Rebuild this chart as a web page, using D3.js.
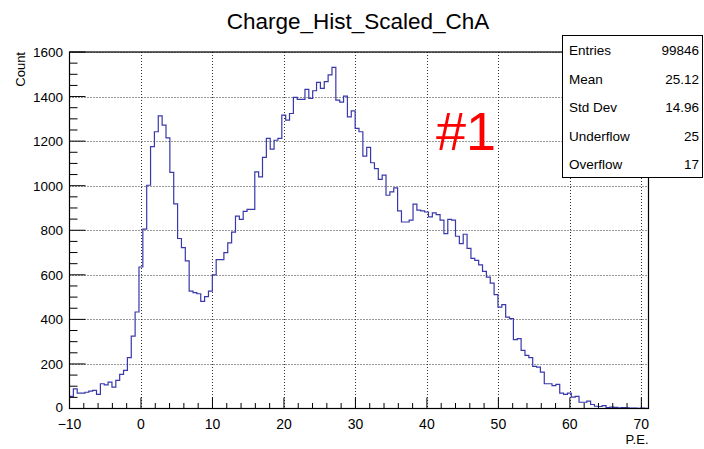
<!DOCTYPE html>
<html>
<head>
<meta charset="utf-8">
<script src="https://cdn.jsdelivr.net/npm/d3@7"></script>
<style>
  body { margin: 0; background: #fff; }
  text { font-family: "Liberation Sans", Arial, sans-serif; }
</style>
</head>
<body>
<svg id="chart" width="704" height="449"></svg>
<script>
// histogram: 150 bins from -10 to 71 (P.E.)
const binLow = -10;
const binHigh = 71;
const counts = [
  54, 88, 69, 69, 73, 78, 81, 63, 111, 106,
  118, 96, 126, 153, 171, 228, 325, 433, 635, 805,
  1002, 1175, 1242, 1313, 1272, 1215, 1060, 918, 763, 722,
  663, 527, 520, 515, 481, 502, 527, 600, 668, 668,
  700, 743, 792, 863, 849, 885, 894, 894, 1062, 1040,
  1127, 1212, 1164, 1204, 1212, 1317, 1294, 1324, 1396, 1387,
  1387, 1432, 1392, 1426, 1464, 1437, 1467, 1497, 1531, 1384,
  1375, 1402, 1309, 1336, 1257, 1242, 1133, 1172, 1103, 1077,
  1028, 1047, 957, 972, 990, 887, 837, 837, 845, 917,
  890, 887, 882, 860, 878, 870, 845, 785, 849, 845,
  773, 740, 782, 719, 674, 665, 645, 615, 590, 563,
  511, 455, 466, 410, 403, 309, 314, 261, 238, 228,
  189, 186, 163, 111, 111, 103, 108, 69, 63, 69,
  51, 54, 28, 28, 33, 18, 10, 9, 13, 4,
  6, 5, 3, 4, 3, 2, 2, 1, 2, 1
];

const xTicks = [-10, 0, 10, 20, 30, 40, 50, 60, 70];
const yTicks = [0, 200, 400, 600, 800, 1000, 1200, 1400, 1600];

const statNames = ["Entries", "Mean", "Std Dev", "Underflow", "Overflow"];
const statValues = ["99846", "25.12", "14.96", "25", "17"];

const title = "Charge_Hist_Scaled_ChA";
const xTitle = "P.E.";
const yTitle = "Count";
const stamp = "#1";

const svg = d3.select("#chart");

// frame
const fx0 = 69.5, fx1 = 648.5, fy0 = 52, fy1 = 408.5;

const x = d3.scaleLinear().domain([binLow, binHigh]).range([fx0, fx1]);
const y = d3.scaleLinear().domain([0, 1600]).range([fy1, fy0]);

const binW = (binHigh - binLow) / counts.length;

// grid (dotted)
const grid = svg.append("g").attr("stroke", "#333").attr("stroke-width", 1)
    .attr("stroke-dasharray", "1,2");
grid.selectAll("line.gx").data(xTicks.filter(t => t > binLow)).join("line")
    .attr("x1", d => Math.round(x(d)) + 0.5).attr("x2", d => Math.round(x(d)) + 0.5)
    .attr("y1", fy0).attr("y2", fy1);
grid.selectAll("line.gy").data(yTicks.filter(t => t > 0)).join("line")
    .attr("x1", fx0).attr("x2", fx1)
    .attr("y1", d => Math.round(y(d)) + 0.5).attr("y2", d => Math.round(y(d)) + 0.5);

// histogram as steps
let pts = counts.map((c, i) => [binLow + i * binW, c]);
pts.push([binHigh, counts[counts.length - 1]]);

const line = d3.line()
    .x(d => x(d[0]))
    .y(d => y(d[1]))
    .curve(d3.curveStepAfter);

svg.append("path")
    .datum(pts)
    .attr("fill", "none")
    .attr("stroke", "#3838ac")
    .attr("stroke-width", 1.2)
    .attr("d", line);

// frame box
svg.append("rect")
    .attr("x", fx0).attr("y", fy0)
    .attr("width", fx1 - fx0).attr("height", fy1 - fy0)
    .attr("fill", "none").attr("stroke", "#000").attr("stroke-width", 1.2);

// y axis ticks, drawn inside like ROOT
const yMinor = d3.range(0, 1601, 50);
svg.append("g").selectAll("line").data(yMinor).join("line")
    .attr("x1", fx0)
    .attr("x2", d => fx0 + (d % 200 === 0 ? 16 : 8))
    .attr("y1", d => y(d)).attr("y2", d => y(d))
    .attr("stroke", "#000").attr("stroke-width", 1);

svg.append("g").selectAll("text").data(yTicks).join("text")
    .attr("x", 63).attr("y", d => y(d) + (d === 0 ? 3 : 5))
    .attr("text-anchor", "end")
    .attr("font-size", 13.5)
    .text(d => d);

// x axis ticks
const xMinor = d3.range(-10, 71, 2);
svg.append("g").selectAll("line").data(xMinor).join("line")
    .attr("x1", d => x(d)).attr("x2", d => x(d))
    .attr("y1", fy1)
    .attr("y2", d => fy1 - (d % 10 === 0 ? 11 : 5.5))
    .attr("stroke", "#000").attr("stroke-width", 1);

svg.append("g").selectAll("text").data(xTicks).join("text")
    .attr("x", d => x(d)).attr("y", 429)
    .attr("text-anchor", "middle")
    .attr("font-size", 14)
    .text(d => d < 0 ? "\u2212" + Math.abs(d) : d);

// titles
svg.append("text")
    .attr("x", 358).attr("y", 29)
    .attr("text-anchor", "middle")
    .attr("font-size", 22.5)
    .text(title);

svg.append("text")
    .attr("x", fx1).attr("y", 444)
    .attr("text-anchor", "end")
    .attr("font-size", 13)
    .text(xTitle);

svg.append("text")
    .attr("transform", "translate(25,52) rotate(-90)")
    .attr("text-anchor", "end")
    .attr("font-size", 13)
    .text(yTitle);

// red label
svg.append("text")
    .attr("x", 436).attr("y", 150)
    .attr("fill", "#ff0000")
    .attr("font-size", 54)
    .text(stamp);

// stats box
const sb = svg.append("g");
sb.append("rect")
    .attr("x", 562.5).attr("y", 35.5)
    .attr("width", 140).attr("height", 142)
    .attr("fill", "#fff").attr("stroke", "#000").attr("stroke-width", 1);
const rowY = d3.scaleLinear().domain([0, statNames.length - 1]).range([50, 164]);
sb.selectAll("text.name").data(statNames).join("text")
    .attr("x", 569).attr("y", (d, i) => rowY(i) + 5)
    .attr("font-size", 13.5)
    .text(d => d);
sb.selectAll("text.val").data(statValues).join("text")
    .attr("x", 699).attr("y", (d, i) => rowY(i) + 5)
    .attr("text-anchor", "end")
    .attr("font-size", 13.5)
    .text(d => d);
</script>
</body>
</html>
